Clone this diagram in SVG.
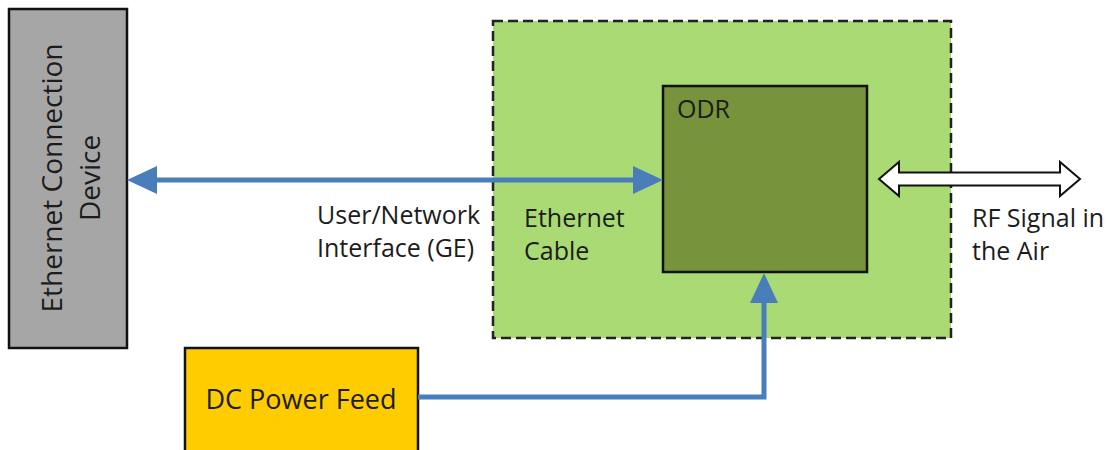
<svg xmlns="http://www.w3.org/2000/svg" width="1111" height="450" viewBox="0 0 1111 450">
<style>
text{font-family:"Open Sans","Liberation Sans",sans-serif;fill:#1c1c1c}
.lbl{font-size:25px}
.box{stroke:#111;stroke-width:2.5}
.blue{fill:none;stroke:#4a7ebb;stroke-width:5}
</style>
<defs>
<marker id="ah" markerUnits="userSpaceOnUse" markerWidth="30" markerHeight="28" refX="10" refY="14" orient="auto-start-reverse" viewBox="0 0 30 28">
<path d="M0,0 L30,14 L0,28 z" fill="#4a7ebb"/>
</marker>
</defs>
<rect width="1111" height="450" fill="#fff"/>
<g id="odr-enclosure">
<rect x="493" y="21" width="458" height="317" fill="#a9da74" stroke="#222" stroke-width="2.5" stroke-dasharray="10,5"/>
<text class="lbl" x="524" y="227">Ethernet</text>
<text class="lbl" x="524" y="260">Cable</text>
</g>
<g id="ethernet-device">
<rect class="box" x="9" y="9" width="118" height="339" fill="#a6a6a6"/>
<text font-size="28" text-anchor="middle" transform="translate(62,178) rotate(-90)">Ethernet Connection</text>
<text font-size="28" text-anchor="middle" transform="translate(100,178) rotate(-90)">Device</text>
</g>
<g id="odr">
<rect class="box" x="663" y="86" width="204" height="186" fill="#77933c"/>
<text class="lbl" x="677" y="118">ODR</text>
</g>
<g id="dc-power">
<rect class="box" x="185" y="348" width="233" height="110" fill="#ffcc00"/>
<text font-size="27" x="301" y="409" text-anchor="middle">DC Power Feed</text>
</g>
<g id="connectors">
<line class="blue" x1="147" y1="180" x2="643" y2="180" marker-start="url(#ah)" marker-end="url(#ah)"/>
<polyline class="blue" points="418,397 764,397 764,293" stroke-linejoin="miter" marker-end="url(#ah)"/>
<polygon points="879,179 899,162 899,172.5 1060,172.5 1060,162 1080,179 1060,196 1060,185.5 899,185.5 899,196" fill="#fff" stroke="#111" stroke-width="2" stroke-linejoin="miter"/>
</g>
<g id="labels">
<text class="lbl" x="317" y="224">User/Network</text>
<text class="lbl" x="317" y="257">Interface (GE)</text>
<text class="lbl" x="972" y="227">RF Signal in</text>
<text class="lbl" x="972" y="260">the Air</text>
</g>
</svg>
